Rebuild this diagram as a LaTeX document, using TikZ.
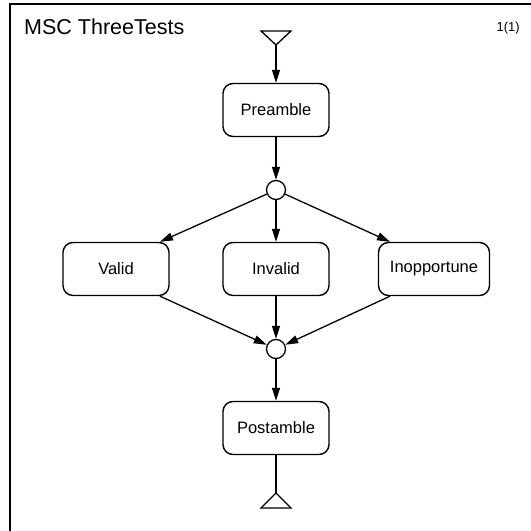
\documentclass[tikz,border=0pt]{standalone}
\usepackage{fontspec}
\setmainfont{Liberation Sans}
\usetikzlibrary{arrows.meta}
\begin{document}
\begin{tikzpicture}[x=1pt,y=-1pt,
  refbox/.style={draw, line width=1.4pt, rounded corners=10pt,
    minimum width=106pt, minimum height=53pt, inner sep=0pt,
    font=\fontsize{16.5}{18}\selectfont},
  junction/.style={draw, circle, line width=1.3pt, minimum size=19pt, inner sep=0pt, fill=white},
  flow/.style={line width=1.3pt, -{Triangle[length=13pt,width=8pt]}},
  plain/.style={line width=1.3pt},
  terminal/.style={line width=1.3pt, fill=white, line join=miter}]
  \useasboundingbox (0,0) rectangle (531,531);
  \clip (0,0) rectangle (531,531);
  \fill[white] (0,0) rectangle (531,531);

  % diagram frame (runs past the page edges)
  \draw[line width=1.8pt] (10,560) -- (10,4) -- (560,4);
  \node[anchor=base west, inner sep=0pt, font=\fontsize{21.5}{24}\selectfont] (title) at (24,34) {MSC ThreeTests};
  \node[anchor=base east, inner sep=0pt, font=\fontsize{13}{15}\selectfont] (page) at (520,31) {1(1)};

  % start and end symbols
  \draw[terminal] (261,31) -- (291,31) -- (276,45) -- cycle;
  \coordinate (start) at (276,45);
  \draw[terminal] (276,493) -- (291,508) -- (261,508) -- cycle;
  \coordinate (stop) at (276,493);

  % references and connection points
  \node[refbox] (pre) at (276,110) {Preamble};
  \node[junction] (c1) at (276,190) {};
  \node[refbox] (valid) at (116,269) {Valid};
  \node[refbox] (invalid) at (276,269) {Invalid};
  \node[refbox, minimum width=111pt] (inopp) at (434,269) {Inopportune};
  \node[junction] (c2) at (276,349) {};
  \node[refbox] (post) at (276,428) {Postamble};

  % connectors
  \draw[flow] (start) -- (pre);
  \draw[flow] (pre) -- (c1);
  \draw[flow] (c1) -- ([xshift=44pt]valid.north);
  \draw[flow] (c1) -- (invalid);
  \draw[flow] (c1) -- ([xshift=-44pt]inopp.north);
  \draw[flow] ([xshift=44pt]valid.south) -- (c2);
  \draw[flow] (invalid) -- (c2);
  \draw[flow] ([xshift=-44pt]inopp.south) -- (c2);
  \draw[flow] (c2) -- (post);
  \draw[plain] (post) -- (stop);
\end{tikzpicture}
\end{document}
